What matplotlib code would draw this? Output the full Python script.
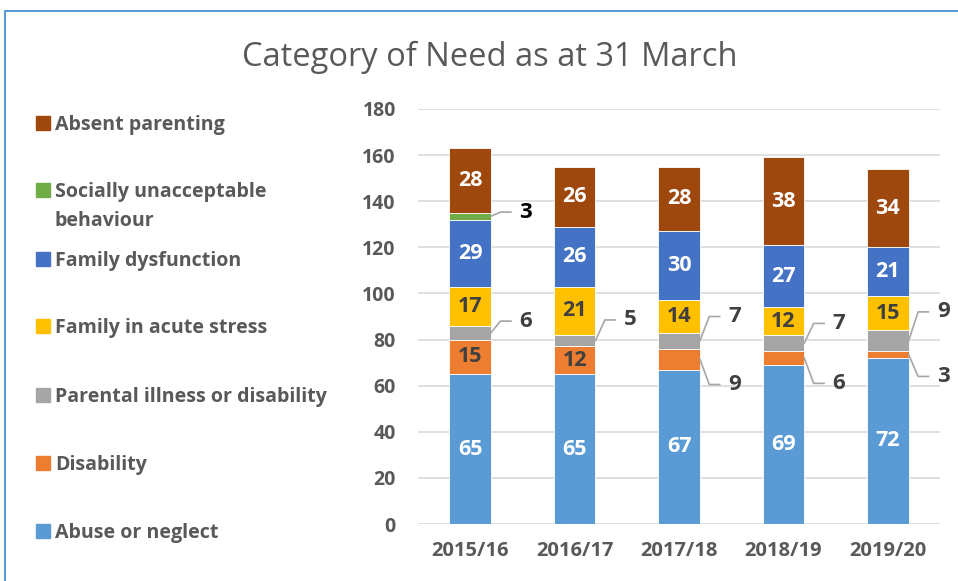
import matplotlib.pyplot as plt
import matplotlib.patches as mpatches
import numpy as np

years = ["2015/16", "2016/17", "2017/18", "2018/19", "2019/20"]

# stacked bottom to top
abuse = [65, 65, 67, 69, 72]
disability = [15, 12, 9, 6, 3]
parental = [6, 5, 7, 7, 9]
acute_stress = [17, 21, 14, 12, 15]
dysfunction = [29, 26, 30, 27, 21]
socially = [3, 0, 0, 0, 0]
absent = [28, 26, 28, 38, 34]

names = ["Abuse or neglect", "Disability", "Parental illness or disability",
         "Family in acute stress", "Family dysfunction",
         "Socially unacceptable\nbehaviour", "Absent parenting"]
series = [abuse, disability, parental, acute_stress, dysfunction, socially, absent]
colors = ["#5B9BD5", "#ED7D31", "#A5A5A5", "#FFC000", "#4472C4", "#70AD47", "#9E480E"]
label_colors = ["white", "#404040", "#404040", "#404040", "white", "white", "white"]

plt.rcParams['font.family'] = ['Open Sans', 'DejaVu Sans']

fig = plt.figure(figsize=(9.58, 5.81), dpi=100)
ax = fig.add_axes([418 / 958, 57 / 581, 522 / 958, 415 / 581])

x = np.arange(len(years))
w = 0.4
bottom = np.zeros(len(years))
# small segments get an outside label with a leader line: (series idx, year idx) -> offset
outside = {(5, 0): 1.8, (2, 0): 5, (2, 1): 9, (2, 2): 10.5, (1, 2): -11,
           (2, 3): 8.5, (1, 3): -11, (2, 4): 12.5, (1, 4): -9.5}
for i, (vals, c) in enumerate(zip(series, colors)):
    vals = np.array(vals, dtype=float)
    ax.bar(x, vals, w, bottom=bottom, color=c, edgecolor="white", linewidth=0.6, zorder=3)
    for j, v in enumerate(vals):
        if v == 0:
            continue
        mid = bottom[j] + v / 2
        if (i, j) in outside:
            ly = mid + outside[(i, j)]
            ax.plot([j + w / 2, j + 0.29, j + 0.39], [mid, ly, ly],
                    color="#A6A6A6", lw=1.2, zorder=4, clip_on=False)
            ax.text(j + 0.53, ly, f"{int(v)}", ha="center", va="center",
                    fontsize=16, fontweight="bold",
                    color="black" if i == 5 else "#404040")
        else:
            ax.text(j, mid, f"{int(v)}", ha="center", va="center",
                    fontsize=15.5, fontweight="bold", color=label_colors[i], zorder=5)
    bottom += vals

ax.set_xlim(-0.5, len(years) - 0.5)
ax.set_ylim(0, 180)
ax.set_yticks(np.arange(0, 181, 20))
ax.set_xticks(x)
ax.set_xticklabels(years)
ax.grid(axis="y", color="#D9D9D9", lw=1.2, zorder=0)
for s in ax.spines.values():
    s.set_visible(False)
ax.tick_params(length=0)
ax.tick_params(axis="y", pad=16, labelsize=14, labelcolor="#595959")
ax.tick_params(axis="x", pad=12, labelsize=14.5, labelcolor="#595959")
for t in ax.get_xticklabels() + ax.get_yticklabels():
    t.set_fontweight("bold")

fig.text(490 / 958, 1 - 57 / 581, "Category of Need as at 31 March", ha="center",
         va="center", fontsize=23.5, color="#595959")

# manual legend on the left
leg_y = [531, 463, 395, 326, 259, 190, 123]
for name, c, py in zip(names, colors, leg_y):
    fy = 1 - py / 581
    fig.patches.append(mpatches.Rectangle((36 / 958, fy - 7 / 581), 14 / 958, 14 / 581,
                                          transform=fig.transFigure, color=c))
    fig.text(55 / 958, fy - 2 / 581, name.split("\n")[0], ha="left", va="center",
             fontsize=14.1, fontweight="bold", color="#595959")
    if "\n" in name:
        fig.text(55 / 958, fy - 31 / 581, name.split("\n")[1], ha="left", va="center",
                 fontsize=14.1, fontweight="bold", color="#595959")

# chart frame, cut at the right and bottom edges
fig.add_artist(plt.Line2D([5 / 958, 5 / 958, 1], [0, 1 - 11 / 581, 1 - 11 / 581],
                          transform=fig.transFigure, color="#5B9BD5", lw=1.5))

fig.savefig("out.png", dpi=100)
